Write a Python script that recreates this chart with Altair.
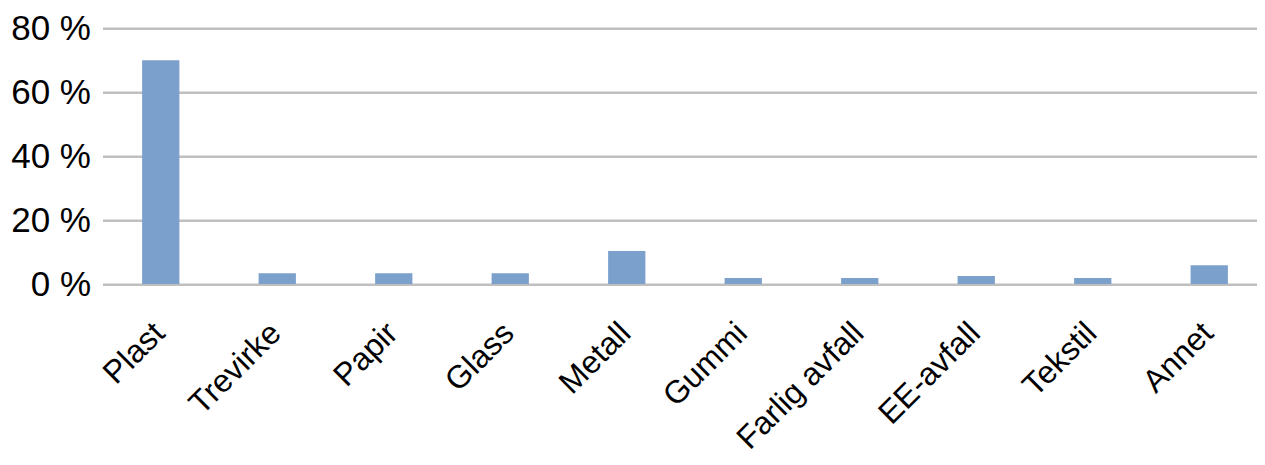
import altair as alt
import pandas as pd

categories = ["Plast", "Trevirke", "Papir", "Glass", "Metall", "Gummi",
              "Farlig avfall", "EE-avfall", "Tekstil", "Annet"]
shares = [70.0, 3.4, 3.4, 3.4, 10.3, 1.9, 1.9, 2.5, 1.9, 5.9]
y_ticks = [0, 20, 40, 60, 80]

df = pd.DataFrame({"kategori": categories, "andel": shares})

FONT = "Liberation Sans"

chart = alt.Chart(df).mark_bar(color="#7BA0CC").encode(
    x=alt.X("kategori:N", sort=categories, title=None,
            scale=alt.Scale(paddingInner=0.68, paddingOuter=0.34, range=[0, 1165]),
            axis=alt.Axis(labelAngle=-45, labelAlign="right", labelBaseline="top",
                          labelFontSize=32, labelFont=FONT, labelColor="#000000",
                          labelPadding=33, labelOffset=-12, ticks=False, tickSize=0,
                          domain=False, grid=False, labelOverlap=False, labelBound=False)),
    y=alt.Y("andel:Q", title=None,
            scale=alt.Scale(domain=[0, 80], nice=False),
            axis=alt.Axis(values=y_ticks, labelExpr="datum.value + ' %'",
                          labelFontSize=35, labelFont=FONT, labelColor="#000000",
                          labelPadding=12, ticks=False, tickSize=0, domain=False,
                          grid=True, gridColor="#BFBFBF", gridWidth=2.5)),
).properties(
    width=1154.5, height=255.7,
    autosize=alt.AutoSizeParams(type="none"),
    padding={"left": 94.5, "top": 20.3, "right": 0, "bottom": 173},
).configure_view(stroke=None).configure_axis(gridOpacity=1)

chart.save("out.html", embed_options={"renderer": "svg", "actions": False})
